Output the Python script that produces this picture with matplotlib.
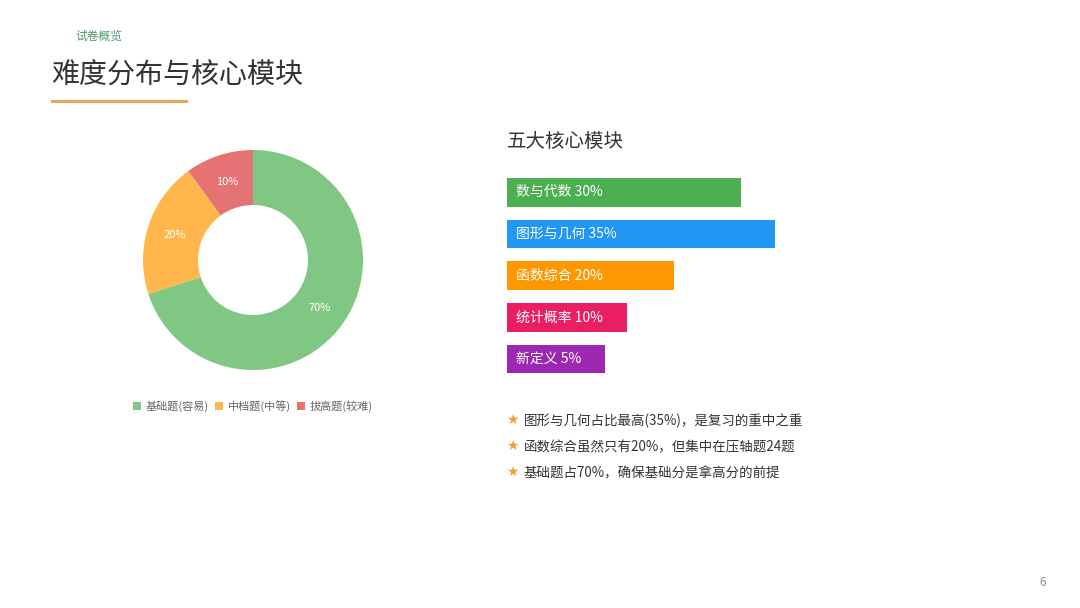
import matplotlib
matplotlib.use("Agg")
import matplotlib.pyplot as plt
from matplotlib.patches import Patch

plt.rcParams['font.family'] = ['Noto Sans CJK SC', 'DejaVu Sans']

# donut data
levels = ['基础题(容易)', '中档题(中等)', '拔高题(较难)']
level_pct = [70, 20, 10]
level_colors = ['#81C784', '#FFB74D', '#E57373']

# bar data
modules = ['数与代数', '图形与几何', '函数综合', '统计概率', '新定义']
module_pct = [30, 35, 20, 10, 5]
module_colors = ['#4CAF50', '#2196F3', '#FF9800', '#E91E63', '#9C27B0']

notes = ['图形与几何占比最高(35%)，是复习的重中之重',
         '函数综合虽然只有20%，但集中在压轴题24题',
         '基础题占70%，确保基础分是拿高分的前提']

W, H = 1080, 608
fig = plt.figure(figsize=(W / 100, H / 100), dpi=100)
fig.patch.set_facecolor('white')


def fx(px):
    return px / W


def fy(py):
    return 1 - py / H


# header
fig.text(fx(75), fy(36), '试卷概览', fontsize=8.5, color='#4E9A6E', va='center')
fig.text(fx(51), fy(76), '难度分布与核心模块', fontsize=20.2, color='#333333', va='center')
fig.add_artist(plt.Line2D([fx(52), fx(186)], [fy(101), fy(101)], color='#E8A65C', lw=2.2))
fig.text(fx(1043), fy(583), '6', fontsize=8.5, color='#888888', ha='center', va='center')

# donut
ax = fig.add_axes([fx(143), fy(370), fx(220), 220 / H])
wedges, _, autotexts = ax.pie(level_pct, colors=level_colors, startangle=90, counterclock=False,
                              radius=1, autopct='%d%%', pctdistance=0.75,
                              wedgeprops=dict(width=0.5, edgecolor='none'),
                              textprops=dict(color='white', fontsize=8))
ax.set_xlim(-1, 1)
ax.set_ylim(-1, 1)
ax.set_aspect('equal')
handles = [Patch(facecolor=c, edgecolor='none') for c in level_colors]
fig.legend(handles, levels, loc='center', bbox_to_anchor=(fx(253), fy(406)), ncol=3, frameon=False,
           fontsize=8, labelcolor='#666666', handlelength=0.7, handleheight=0.7, handletextpad=0.4,
           columnspacing=0.6)

# section title
fig.text(fx(507), fy(141), '五大核心模块', fontsize=14, color='#333333', va='center')

# bars: 6.75 px per percent, bar never narrower than its label
bx = fig.add_axes([fx(507), fy(383), fx(300), (383 - 170) / H])
bx.set_xlim(0, 300 / 6.75)
bx.set_ylim(len(modules) - 0.5 + 0.08, -0.5 - 0.04)
bx.axis('off')
fig.canvas.draw()
r = fig.canvas.get_renderer()
pad_l = 9 / 6.75
pad_r = 24 / 6.75
for i, (m, p, c) in enumerate(zip(modules, module_pct, module_colors)):
    t = bx.text(pad_l, i, f'{m} {p}%', color='white', fontsize=10, va='center')
    tw = t.get_window_extent(r).width / 6.75
    length = max(p + 4.7, tw + pad_l + pad_r)
    bx.barh(i, length, height=0.69, color=c, zorder=0)

# notes
for k, n in enumerate(notes):
    y = 421 + 26 * k
    fig.text(fx(506), fy(y - 1), '★', fontsize=10, color='#F0A030', va='center', family=['DejaVu Sans'])
    fig.text(fx(524), fy(y), n, fontsize=9.7, color='#333333', va='center')

fig.savefig('out.png', dpi=100, facecolor='white')
